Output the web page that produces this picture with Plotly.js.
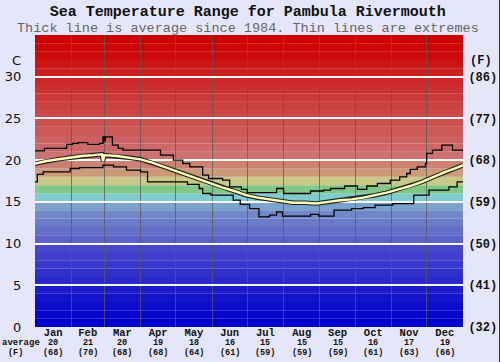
<!DOCTYPE html>
<html><head><meta charset="utf-8">
<script src="https://cdn.plot.ly/plotly-3.0.1.min.js"></script>
<style>html,body{margin:0;padding:0;background:#e6e6fa;overflow:hidden}#chart{width:500px;height:362px;position:relative}#edge{position:absolute;left:499px;top:0;width:1px;height:362px;background:#333}</style>
</head><body><div id="chart"></div><div id="edge"></div>
<script>
const months = ['Jan','Feb','Mar','Apr','May','Jun','Jul','Aug','Sep','Oct','Nov','Dec'];
const monthStartDays = [0,31,59,90,120,151,181,212,243,273,304,334,365];
const avgC = [20,21,20,19,18,16,15,15,15,16,17,19];
const avgF = [68,70,68,68,64,61,59,59,59,61,63,66];
const cTicks = [0,5,10,15,20,25,30];
const fTicks = [32,41,50,59,68,77,86];

const maxDays  = [0,8,27,32,37,45,55,58,59,60,66,71,75,101,107,118,126,132,143,148,160,166,176,181,206,212,235,246,252,264,275,283,292,303,311,317,320,326,333,334,339,347,356,365];
const maxTemps = [21.1,21.4,21.9,22.0,22.1,21.9,22.0,22.8,22.3,22.8,21.8,21.4,21.2,21.2,20.6,20.0,19.6,19.2,18.2,17.8,17.6,16.8,16.5,16.1,16.6,16.0,16.3,16.4,16.6,16.9,16.5,16.9,17.2,17.6,18.0,18.4,18.9,19.2,19.6,20.8,21.2,21.8,21.2,21.0];

const minDays  = [0,2,7,30,38,58,67,78,90,96,130,140,143,150,169,175,183,191,200,206,211,235,242,255,270,280,290,305,323,336,353,360,365];
const minTemps = [17.4,18.3,18.6,19.0,19.1,19.4,19.2,18.8,18.6,17.4,17.1,16.6,16.0,15.8,15.2,14.7,14.2,13.2,13.4,13.8,13.3,13.5,13.3,14.0,14.2,14.3,14.6,14.8,15.8,16.4,16.8,17.4,17.4];

const avgDays  = [0,10,20,30,40,50,57,58,59,70,80,90,100,110,120,130,140,150,160,170,180,190,200,210,220,230,240,250,260,270,280,290,300,310,320,330,340,350,360,365];
const avgTemps = [19.6,19.9,20.1,20.3,20.5,20.6,20.7,19.9,20.6,20.5,20.3,20.1,19.7,19.2,18.7,18.2,17.7,17.2,16.7,16.3,15.8,15.5,15.3,15.1,14.9,14.9,14.8,15.0,15.2,15.3,15.5,15.8,16.1,16.5,16.9,17.4,18.0,18.6,19.1,19.4];

// background band colours, one per degree from 0 to 35
const bandColors = ['#0000cc','#0606cc','#0c0ccc','#1414cc','#1c1ccc','#2828cc','#3030cc','#3838cc','#4040cc','#4848cc',
  '#5a62c8','#6470c8','#6a7ac8','#7088c8','#7aa2cc','#80cccc','#80c888','#c8c888','#cc9a78','#cc8272',
  '#cc7272','#cc6868','#cc6060','#cc5858','#cc5050','#cc4848','#cc4040','#cc3838','#cc3030','#cc2828',
  '#cc2020','#cc1414','#cc0a0a','#cc0404','#cc0000'];

const mid = months.map((m,i)=> (monthStartDays[i]+monthStartDays[i+1])/2);
const shapes = bandColors.map((c,i)=>({type:'rect',xref:'x',yref:'y',x0:0,x1:365,y0:i,y1:i+1,fillcolor:c,line:{width:0},layer:'below'}));

const mono = 'Liberation Mono, Courier New, monospace';
const traces = [
  {x:maxDays,y:maxTemps,mode:'lines',line:{color:'#000',width:1.3,shape:'hv'},hoverinfo:'skip'},
  {x:minDays,y:minTemps,mode:'lines',line:{color:'#000',width:1.3,shape:'hv'},hoverinfo:'skip'},
  {x:avgDays,y:avgTemps,mode:'lines',line:{color:'#222',width:4.6},hoverinfo:'skip'},
  {x:avgDays,y:avgTemps,mode:'lines',line:{color:'#ffffb8',width:2.4},hoverinfo:'skip'},
  {x:[0],y:[32],yaxis:'y2',mode:'markers',marker:{opacity:0},hoverinfo:'skip'}
];

const annotations = [
  {text:'Thick line is average since 1984. Thin lines are extremes',xref:'paper',yref:'paper',x:0.497,y:1.022,xanchor:'center',yanchor:'middle',showarrow:false,borderpad:0,font:{family:mono,size:13.5,color:'#666'}},
  {text:'C',xref:'paper',yref:'paper',x:-0.044,y:0.911,xanchor:'center',yanchor:'middle',showarrow:false,font:{family:'DejaVu Sans, sans-serif',size:13,color:'#111'}},
  {text:'<b>(F)</b>',xref:'paper',yref:'paper',x:1.042,y:0.911,xanchor:'center',yanchor:'middle',showarrow:false,font:{family:mono,size:12,color:'#111'}},
  {text:'<b>average</b>',xref:'paper',yref:'paper',x:-0.033,y:-0.054,xanchor:'center',yanchor:'middle',showarrow:false,borderpad:0,font:{family:mono,size:9,color:'#111'}},
  {text:'<b>(F)</b>',xref:'paper',yref:'paper',x:-0.045,y:-0.089,xanchor:'center',yanchor:'middle',showarrow:false,borderpad:0,font:{family:mono,size:8.5,color:'#111'}}
];
mid.forEach((d,i)=>{
  annotations.push({text:'<b>'+avgC[i]+'</b>',xref:'x',yref:'paper',x:d,y:-0.054,xanchor:'center',yanchor:'middle',showarrow:false,borderpad:0,font:{family:mono,size:8.5,color:'#111'}});
  annotations.push({text:'<b>('+avgF[i]+')</b>',xref:'x',yref:'paper',x:d,y:-0.089,xanchor:'center',yanchor:'middle',showarrow:false,borderpad:0,font:{family:mono,size:8.5,color:'#111'}});
});

const layout = {
  width:500,height:362,
  margin:{l:35,r:37,t:35,b:35,pad:0},
  paper_bgcolor:'#e6e6fa',plot_bgcolor:'#e6e6fa',
  showlegend:false,
  title:{text:'Sea Temperature Range for Pambula Rivermouth',x:0.497,xref:'paper',y:1-10.5/362,yref:'container',xanchor:'center',yanchor:'middle',font:{family:mono,size:15,weight:'bold',color:'#111'}},
  xaxis:{range:[0,365],tickmode:'array',tickvals:mid,ticktext:months,showgrid:false,zeroline:false,ticks:'',ticklen:0,ticklabelstandoff:-3,
    tickfont:{family:mono,size:10.5,weight:'bold',color:'#111'},
    minor:{tickmode:'array',tickvals:monthStartDays,showgrid:true,gridcolor:'rgba(90,90,90,0.75)',gridwidth:1,ticks:''},
    fixedrange:true},
  yaxis:{range:[0,35],tickmode:'array',tickvals:cTicks,showgrid:true,gridcolor:'rgba(255,255,255,0.95)',gridwidth:2,zeroline:false,
    ticks:'outside',ticklen:10,tickcolor:'rgba(0,0,0,0)',tickfont:{family:'DejaVu Sans, sans-serif',size:13,color:'#111'},fixedrange:true},
  yaxis2:{range:[32,95],overlaying:'y',side:'right',tickmode:'array',tickvals:fTicks,ticktext:fTicks.map(v=>'('+v+')'),showgrid:false,zeroline:false,
    ticks:'outside',ticklen:2,tickcolor:'rgba(0,0,0,0)',tickfont:{family:mono,size:12,weight:'bold',color:'#111'},fixedrange:true},
  shapes:shapes,
  annotations:annotations
};
Plotly.newPlot('chart',traces,layout,{displayModeBar:false,staticPlot:true});
</script>
</body></html>
